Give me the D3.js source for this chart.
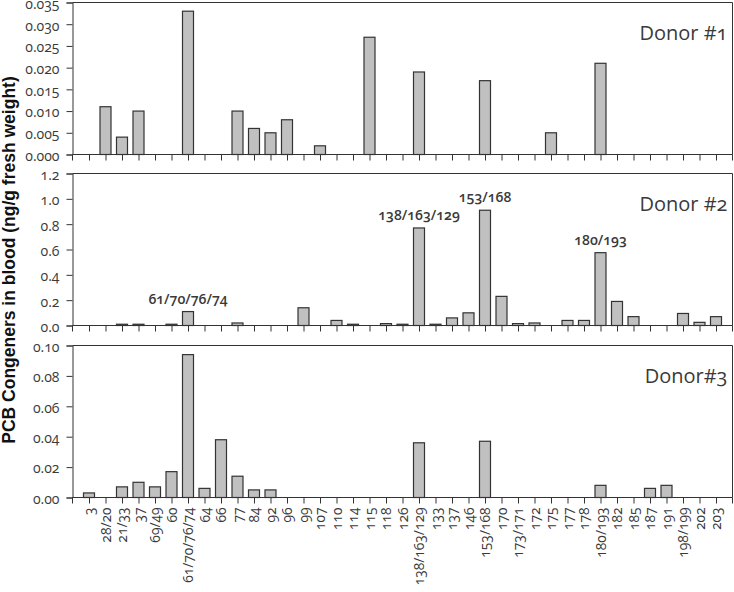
<!DOCTYPE html>
<html>
<head>
<meta charset="utf-8">
<script src="https://cdn.jsdelivr.net/npm/d3@7"></script>
<style>
  html, body { margin: 0; padding: 0; background: #fff; }
  svg { display: block; }
  .hum { font-family: "Open Sans", Lato, sans-serif; font-feature-settings: "onum" 1; font-variant-numeric: oldstyle-nums; }
</style>
</head>
<body>
<svg id="chart" width="734" height="592"></svg>
<script>
const categories = ["3","28/20","21/33","37","69/49","60","61/70/76/74","64","66","77","84","92","96","99","107","110","114","115","118","126","138/163/129","133","137","146","153/168","170","173/171","172","175","177","178","180/193","182","185","187","191","198/199","202","203"];

const donor1 = [0,0.011,0.004,0.010,0,0,0.033,0,0,0.010,0.006,0.005,0.008,0,0.002,0,0,0.027,0,0,0.019,0,0,0,0.017,0,0,0,0.005,0,0,0.021,0,0,0,0,0,0,0];
const donor2 = [0,0,0.01,0.01,0,0.01,0.11,0,0,0.02,0,0,0,0.14,0,0.04,0.01,0,0.015,0.01,0.77,0.01,0.06,0.10,0.91,0.23,0.015,0.02,0,0.04,0.04,0.575,0.19,0.07,0,0,0.095,0.025,0.07];
const donor3 = [0.003,0,0.007,0.010,0.007,0.017,0.094,0.006,0.038,0.014,0.005,0.005,0,0,0,0,0,0,0,0,0.036,0,0,0,0.037,0,0,0,0,0,0,0.008,0,0,0.006,0.008,0,0,0];

const yTicks1 = [0,0.005,0.010,0.015,0.020,0.025,0.030,0.035];
const yTicks2 = [0,0.2,0.4,0.6,0.8,1.0,1.2];
const yTicks3 = [0,0.02,0.04,0.06,0.08,0.10];

const panelTitles = ["Donor #1","Donor #2","Donor#3"];
const annotations2 = ["61/70/76/74","138/163/129","153/168","180/193"];
const yTitle = "PCB Congeners in blood (ng/g fresh weight)";

const svg = d3.select("#chart");
const left = 72.5, right = 732.5;
const panelH = 152;
const tops = [2.5, 173.5, 345.5];
const dark = "#333";

const x = d3.scalePoint().domain(categories).range([left, right]).padding(1);
const bw = Math.round(x.step() * 0.67);

const panels = [
  {data: donor1, max: 0.035, ticks: yTicks1, fmt: d3.format(".3f"), title: panelTitles[0]},
  {data: donor2, max: 1.2, ticks: yTicks2, fmt: d3.format(".1f"), title: panelTitles[1], ann: annotations2},
  {data: donor3, max: 0.10, ticks: yTicks3, fmt: d3.format(".2f"), title: panelTitles[2], labels: true}
];

panels.forEach((p, i) => {
  const top = tops[i], bottom = top + panelH;
  const y = d3.scaleLinear().domain([0, p.max]).range([bottom, top]);
  const g = svg.append("g");

  g.append("path")
    .attr("d", `M${left},${top}H${right}V${bottom}`)
    .attr("fill", "none").attr("stroke", dark).attr("stroke-width", 1);

  const rows = categories.map((c, k) => ({c, v: p.data[k]})).filter(d => d.v > 0);
  g.selectAll("rect.bar").data(rows).join("rect")
    .attr("class", "bar")
    .attr("x", d => x(d.c) - bw / 2)
    .attr("y", d => y(d.v))
    .attr("width", bw)
    .attr("height", d => Math.max(0.5, bottom - y(d.v)))
    .attr("fill", "#c0c0c0")
    .attr("stroke", dark)
    .attr("stroke-width", 1.2);

  const ya = g.append("g").attr("transform", `translate(${left},0)`)
    .call(d3.axisLeft(y).tickValues(p.ticks).tickFormat(p.fmt).tickSize(6).tickPadding(7));
  ya.select(".domain").attr("stroke", dark);
  ya.selectAll(".tick line").attr("stroke", dark);
  ya.selectAll(".tick text").attr("class", "hum").attr("font-size", 14).attr("fill", "#3a3a3a").attr("dy", "0.42em");

  const xa = g.append("g").attr("transform", `translate(0,${bottom})`)
    .call(d3.axisBottom(x).tickSize(6).tickSizeOuter(0).tickFormat(p.labels ? (d => d) : ""));
  xa.select(".domain").attr("stroke", dark).attr("d", `M${left},0H${right}`);
  xa.selectAll(".tick line").attr("stroke", dark);
  xa.selectAll("line.endtick").data(x.range()).join("line")
    .attr("class", "endtick")
    .attr("x1", d => d).attr("x2", d => d).attr("y1", 0).attr("y2", 6)
    .attr("stroke", dark);
  if (p.labels) {
    xa.selectAll(".tick text")
      .attr("class", "hum")
      .attr("font-size", 13.8)
      .attr("fill", "#3a3a3a")
      .attr("transform", "rotate(-90)")
      .attr("text-anchor", "end")
      .attr("x", -10).attr("y", 0).attr("dy", "0.35em");
  } else {
    xa.selectAll(".tick text").remove();
  }

  g.append("text").attr("class", "hum")
    .attr("x", right - 5).attr("y", top + 37)
    .attr("text-anchor", "end")
    .attr("font-size", 20)
    .attr("fill", "#3a3a3a")
    .text(p.title);

  if (p.ann) {
    g.selectAll("text.ann").data(p.ann).join("text")
      .attr("class", "hum ann")
      .attr("x", d => x(d))
      .attr("y", d => y(p.data[categories.indexOf(d)]) - 8)
      .attr("text-anchor", "middle")
      .attr("font-size", 14)
      .attr("font-weight", 600)
      .attr("fill", "#3a3a3a")
      .text(d => d);
  }
});

svg.append("text")
  .attr("transform", `translate(15,260) rotate(-90)`)
  .attr("text-anchor", "middle")
  .attr("font-family", "'Liberation Sans', Arial, sans-serif")
  .attr("font-weight", "bold")
  .attr("font-size", 17.5)
  .attr("fill", "#111")
  .text(yTitle);
</script>
</body>
</html>
